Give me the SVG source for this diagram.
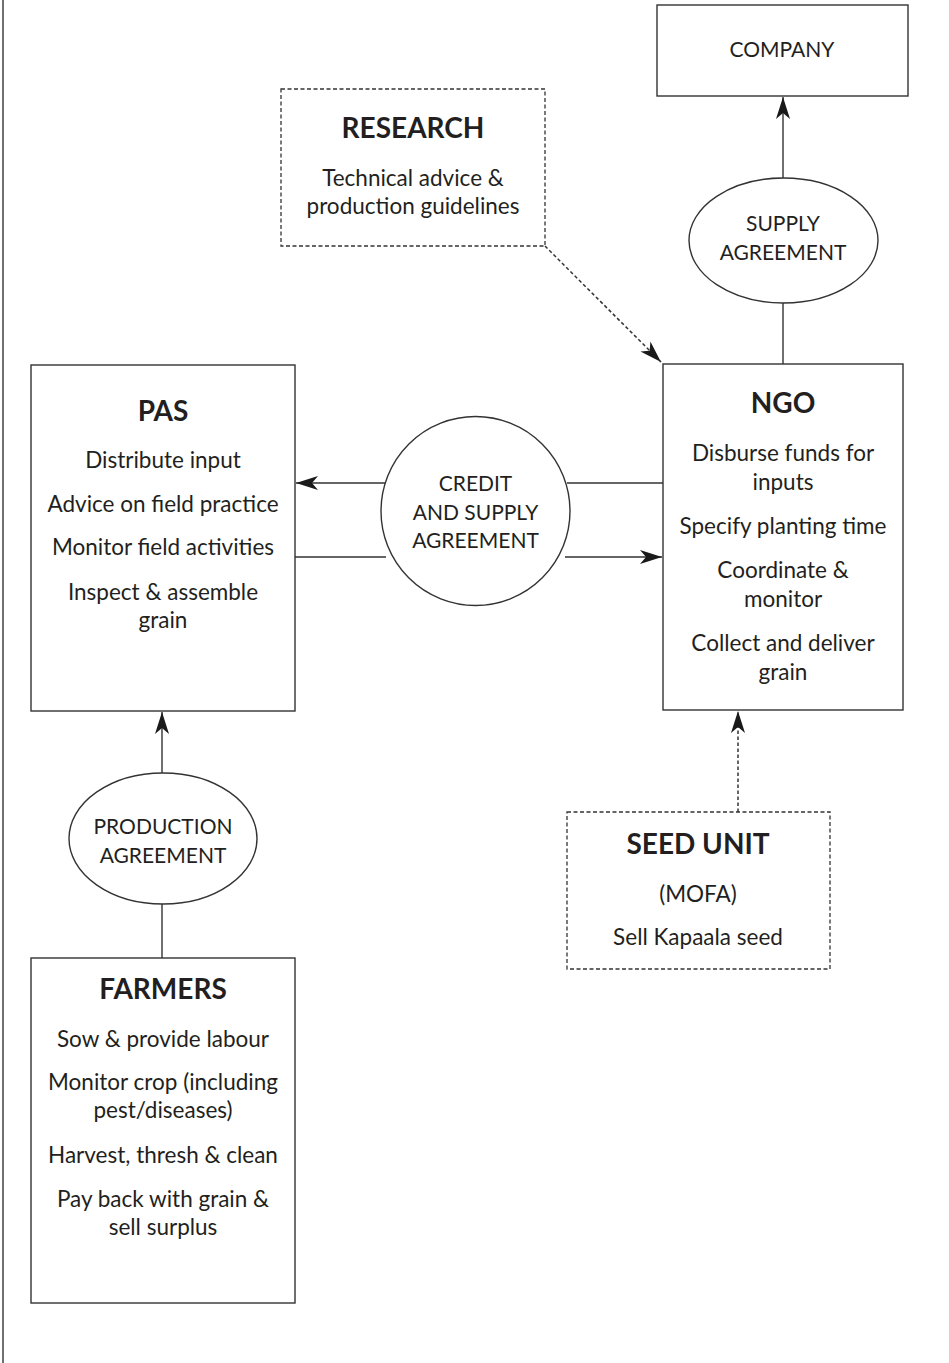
<svg xmlns="http://www.w3.org/2000/svg" width="949" height="1363" viewBox="0 0 949 1363">
<style>
.box{fill:#fff;stroke:#333;stroke-width:1.4}
.dbox{fill:#fff;stroke:#333;stroke-width:1.3;stroke-dasharray:4 2.5}
.ln{fill:none;stroke:#333;stroke-width:1.4}
.dln{fill:none;stroke:#333;stroke-width:1.5;stroke-dasharray:3.5 2.5}
text{font-family:Lato,"Open Sans","Liberation Sans",sans-serif;fill:#231f20;text-anchor:middle}
.t{font-size:28px;font-weight:bold}
.b{font-size:22.5px}
.c{font-size:21px}
</style>
<defs>
<marker id="ah" markerUnits="userSpaceOnUse" markerWidth="26" markerHeight="18" viewBox="-24 -9 26 18" refX="0" refY="0" orient="auto">
<path d="M0,0 L-22,-7 L-16,0 L-22,7 Z" fill="#1a1a1a"/>
</marker>
</defs>
<line x1="3" y1="0" x2="3" y2="1363" class="ln"/>
<g id="connectors">
<line x1="783" y1="178" x2="783" y2="97" class="ln" marker-end="url(#ah)"/>
<line x1="783" y1="364" x2="783" y2="303" class="ln"/>
<line x1="545" y1="246" x2="661" y2="362" class="dln" marker-end="url(#ah)"/>
<line x1="663" y1="483" x2="567" y2="483" class="ln"/>
<line x1="385" y1="483" x2="296" y2="483" class="ln" marker-end="url(#ah)"/>
<line x1="295" y1="557" x2="386" y2="557" class="ln"/>
<line x1="565" y1="557" x2="662" y2="557" class="ln" marker-end="url(#ah)"/>
<line x1="738" y1="812" x2="738" y2="711" class="dln" marker-end="url(#ah)"/>
<line x1="162" y1="773" x2="162" y2="712" class="ln" marker-end="url(#ah)"/>
<line x1="162" y1="958" x2="162" y2="904" class="ln"/>
</g>
<g id="company">
<rect x="657" y="5" width="251" height="91" class="box"/>
<text x="782" y="57" class="c">COMPANY</text>
</g>
<g id="supply-agreement">
<ellipse cx="783.5" cy="240.5" rx="94.5" ry="62.5" class="box"/>
<text x="783" y="231" class="c">SUPPLY</text>
<text x="783" y="260" class="c">AGREEMENT</text>
</g>
<g id="research">
<rect x="281" y="89" width="264" height="157" class="dbox"/>
<text x="413" y="138" class="t">RESEARCH</text>
<text x="413" y="186" class="b">Technical advice &amp;</text>
<text x="413" y="214" class="b">production guidelines</text>
</g>
<g id="pas">
<rect x="31" y="365" width="264" height="346" class="box"/>
<text x="163" y="421" class="t">PAS</text>
<text x="163" y="468" class="b">Distribute input</text>
<text x="163" y="512" class="b">Advice on field practice</text>
<text x="163" y="555" class="b">Monitor field activities</text>
<text x="163" y="600" class="b">Inspect &amp; assemble</text>
<text x="163" y="628" class="b">grain</text>
</g>
<g id="ngo">
<rect x="663" y="364" width="240" height="346" class="box"/>
<text x="783" y="413" class="t">NGO</text>
<text x="783" y="461" class="b">Disburse funds for</text>
<text x="783" y="490" class="b">inputs</text>
<text x="783" y="534" class="b">Specify planting time</text>
<text x="783" y="578" class="b">Coordinate &amp;</text>
<text x="783" y="607" class="b">monitor</text>
<text x="783" y="651" class="b">Collect and deliver</text>
<text x="783" y="680" class="b">grain</text>
</g>
<g id="credit-supply-agreement">
<circle cx="475.5" cy="511" r="94.5" class="box"/>
<text x="475.5" y="491" class="c">CREDIT</text>
<text x="475.5" y="520" class="c">AND SUPPLY</text>
<text x="475.5" y="548" class="c">AGREEMENT</text>
</g>
<g id="production-agreement">
<ellipse cx="163" cy="838.5" rx="94" ry="65.5" class="box"/>
<text x="163" y="834" class="c">PRODUCTION</text>
<text x="163" y="863" class="c">AGREEMENT</text>
</g>
<g id="seed-unit">
<rect x="567" y="812" width="263" height="157" class="dbox"/>
<text x="698" y="854" class="t">SEED UNIT</text>
<text x="698" y="902" class="b">(MOFA)</text>
<text x="698" y="945" class="b">Sell Kapaala seed</text>
</g>
<g id="farmers">
<rect x="31" y="958" width="264" height="345" class="box"/>
<text x="163" y="999" class="t">FARMERS</text>
<text x="163" y="1047" class="b">Sow &amp; provide labour</text>
<text x="163" y="1090" class="b">Monitor crop (including</text>
<text x="163" y="1118" class="b">pest/diseases)</text>
<text x="163" y="1163" class="b">Harvest, thresh &amp; clean</text>
<text x="163" y="1207" class="b">Pay back with grain &amp;</text>
<text x="163" y="1235" class="b">sell surplus</text>
</g>
</svg>
